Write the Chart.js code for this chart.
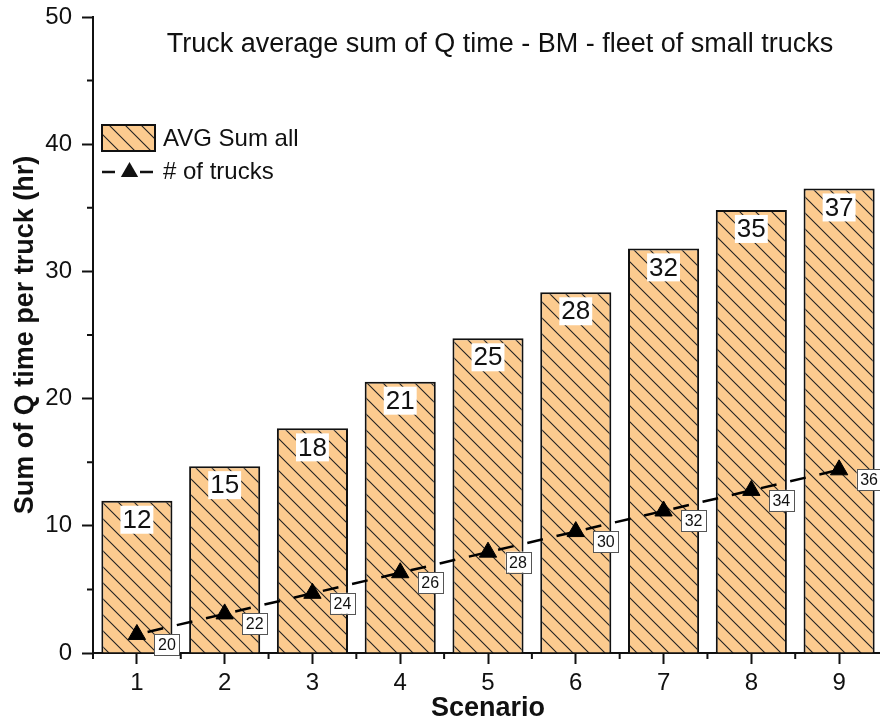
<!DOCTYPE html>
<html>
<head>
<meta charset="utf-8">
<script src="https://cdn.jsdelivr.net/npm/chart.js@4.4.1/dist/chart.umd.min.js"></script>
<style>
  html, body { margin: 0; padding: 0; background: #fff; overflow: hidden; }
  canvas { display: block; }
</style>
</head>
<body>
<canvas id="chart" width="883" height="725"></canvas>
<script>
// Scenario categories and the two series
const scenarios = ['1', '2', '3', '4', '5', '6', '7', '8', '9'];
const avgSumAll = [11.97, 14.69, 17.66, 21.33, 24.74, 28.36, 31.81, 34.83, 36.52];
const truckCounts = [20, 22, 24, 26, 28, 30, 32, 34, 36];
const yMajorTicks = [0, 10, 20, 30, 40, 50];
const yMinorTicks = [5, 15, 25, 35, 45];

const chartTitle = 'Truck average sum of Q time - BM - fleet of small trucks';
const barLabel = 'AVG Sum all';
const lineLabel = '# of trucks';

const FONT = "'Liberation Sans', Arial, Helvetica, sans-serif";
const INK = '#111111';
const FILL = '#FCCB8F';

// Diagonal hatch fill for the bars
function makeHatch() {
  const s = 16;
  const tile = document.createElement('canvas');
  tile.width = s; tile.height = s;
  const t = tile.getContext('2d');
  t.fillStyle = FILL;
  t.fillRect(0, 0, s, s);
  t.strokeStyle = '#222222';
  t.lineWidth = 1.1;
  t.beginPath();
  t.moveTo(-2, -2); t.lineTo(s + 2, s + 2);
  t.moveTo(-2, s - 2); t.lineTo(2, s + 2);
  t.moveTo(s - 2, -2); t.lineTo(s + 2, 2);
  t.stroke();
  return t.createPattern(tile, 'repeat');
}

const ctx = document.getElementById('chart').getContext('2d');
const hatch = makeHatch();

// Minor tick marks on both axes
const minorTicks = {
  id: 'minorTicks',
  afterDraw(chart) {
    const { ctx, chartArea, scales } = chart;
    ctx.save();
    ctx.strokeStyle = INK;
    ctx.lineWidth = 2;
    ctx.beginPath();
    yMinorTicks.forEach(v => {
      const y = scales.y.getPixelForValue(v);
      ctx.moveTo(chartArea.left - 6, y);
      ctx.lineTo(chartArea.left, y);
    });
    const xs = [chartArea.left];
    for (let i = 0; i < scenarios.length - 1; i++) {
      xs.push((scales.x.getPixelForValue(i) + scales.x.getPixelForValue(i + 1)) / 2);
    }
    xs.push(chartArea.right);
    xs.forEach(x => {
      ctx.moveTo(x, chartArea.bottom);
      ctx.lineTo(x, chartArea.bottom + 6);
    });
    ctx.stroke();
    ctx.restore();
  }
};

// Value labels: rounded bar values and boxed truck counts
const valueLabels = {
  id: 'valueLabels',
  afterDatasetsDraw(chart) {
    const { ctx } = chart;
    ctx.save();
    ctx.textAlign = 'center';
    ctx.textBaseline = 'middle';

    const bars = chart.getDatasetMeta(0).data;
    ctx.font = `26px ${FONT}`;
    bars.forEach((bar, i) => {
      const txt = String(Math.round(avgSumAll[i]));
      const w = ctx.measureText(txt).width;
      const cy = bar.y + 19;
      ctx.fillStyle = '#ffffff';
      ctx.fillRect(bar.x - w / 2 - 2, cy - 14, w + 4, 28);
      ctx.fillStyle = INK;
      ctx.fillText(txt, bar.x, cy + 1);
    });

    const pts = chart.getDatasetMeta(1).data;
    ctx.font = `16px ${FONT}`;
    pts.forEach((pt, i) => {
      const txt = String(truckCounts[i]);
      const w = ctx.measureText(txt).width;
      const cx = pt.x + 30, cy = pt.y + 10;
      const bw = w + 7, bh = 21;
      ctx.fillStyle = '#ffffff';
      ctx.fillRect(cx - bw / 2, cy - bh / 2, bw, bh);
      ctx.strokeStyle = '#555555';
      ctx.lineWidth = 1;
      ctx.strokeRect(Math.round(cx - bw / 2) + 0.5, Math.round(cy - bh / 2) + 0.5, Math.round(bw), bh);
      ctx.fillStyle = INK;
      ctx.fillText(txt, cx, cy + 1);
    });
    ctx.restore();
  }
};

// Title and legend placed inside the plot area
const innerTitleLegend = {
  id: 'innerTitleLegend',
  afterDraw(chart) {
    const { ctx, chartArea } = chart;
    const L = chartArea.left, T = chartArea.top;
    ctx.save();
    ctx.fillStyle = INK;
    ctx.textBaseline = 'middle';
    ctx.textAlign = 'center';
    ctx.font = `27px ${FONT}`;
    ctx.fillText(chartTitle, L + 407, T + 28);

    // bar swatch
    ctx.fillStyle = hatch;
    ctx.fillRect(L + 9, T + 108, 53, 26);
    ctx.strokeStyle = INK;
    ctx.lineWidth = 2;
    ctx.strokeRect(L + 9, T + 108, 53, 26);

    // line swatch
    const ly = T + 155;
    ctx.lineWidth = 2.5;
    ctx.beginPath();
    ctx.moveTo(L + 9, ly); ctx.lineTo(L + 22, ly);
    ctx.moveTo(L + 47, ly); ctx.lineTo(L + 60, ly);
    ctx.stroke();
    ctx.fillStyle = INK;
    ctx.beginPath();
    const r = 10, cx = L + 36.5;
    ctx.moveTo(cx, ly - r);
    ctx.lineTo(cx + r * Math.sin(2 * Math.PI / 3), ly - r * Math.cos(2 * Math.PI / 3));
    ctx.lineTo(cx - r * Math.sin(2 * Math.PI / 3), ly - r * Math.cos(2 * Math.PI / 3));
    ctx.closePath();
    ctx.fill();

    ctx.textAlign = 'left';
    ctx.font = `24px ${FONT}`;
    ctx.fillText(barLabel, L + 70, T + 122);
    ctx.fillText(lineLabel, L + 70, ly);
    ctx.restore();
  }
};

new Chart(ctx, {
  type: 'bar',
  data: {
    labels: scenarios,
    datasets: [
      {
        type: 'bar',
        label: barLabel,
        data: avgSumAll,
        backgroundColor: hatch,
        borderColor: INK,
        borderWidth: 2,
        borderSkipped: 'bottom',
        categoryPercentage: 1,
        barPercentage: 0.81,
        yAxisID: 'y',
        order: 2
      },
      {
        type: 'line',
        label: lineLabel,
        data: truckCounts,
        yAxisID: 'trucks',
        borderColor: '#000000',
        borderWidth: 2.5,
        borderDash: [16, 14],
        borderDashOffset: 19,
        fill: false,
        tension: 0,
        pointStyle: 'triangle',
        pointRadius: 10,
        pointHoverRadius: 10,
        pointBackgroundColor: '#000000',
        pointBorderColor: '#000000',
        pointBorderWidth: 1,
        order: 1
      }
    ]
  },
  options: {
    responsive: false,
    animation: false,
    events: [],
    layout: { autoPadding: false, padding: { top: 17, right: 0, bottom: 0, left: 0 } },
    plugins: {
      legend: { display: false },
      title: { display: false },
      tooltip: { enabled: false }
    },
    scales: {
      x: {
        type: 'category',
        offset: true,
        grid: { display: true, drawOnChartArea: false, drawTicks: true, tickLength: 11, tickWidth: 2, tickColor: INK, offset: false },
        border: { display: true, color: INK, width: 2 },
        ticks: { color: INK, font: { family: FONT, size: 24 }, padding: 5, maxRotation: 0 },
        title: { display: true, text: 'Scenario', color: INK, font: { family: FONT, size: 27, weight: 'bold' }, padding: { top: 0, bottom: 0 } },
        afterFit(scale) {
          scale.height = 72;
          scale.paddingLeft = 0; scale.paddingRight = 0;
        }
      },
      y: {
        type: 'linear',
        position: 'left',
        min: 0,
        max: 50,
        afterBuildTicks(scale) { scale.ticks = yMajorTicks.map(v => ({ value: v })); },
        grid: { display: true, drawOnChartArea: false, drawTicks: true, tickLength: 11, tickWidth: 2, tickColor: INK },
        border: { display: true, color: INK, width: 2 },
        ticks: { color: INK, font: { family: FONT, size: 24 }, padding: 10 },
        title: { display: true, text: 'Sum of Q time per truck (hr)', color: INK, font: { family: FONT, size: 27, weight: 'bold' }, padding: { top: 9, bottom: 0 } },
        afterFit(scale) {
          scale.width = 93;
          scale.paddingTop = 0; scale.paddingBottom = 0;
        }
      },
      trucks: {
        type: 'linear',
        axis: 'y',
        position: 'right',
        display: false,
        min: 18.2,
        max: 80
      }
    }
  },
  plugins: [minorTicks, valueLabels, innerTitleLegend]
});
</script>
</body>
</html>
